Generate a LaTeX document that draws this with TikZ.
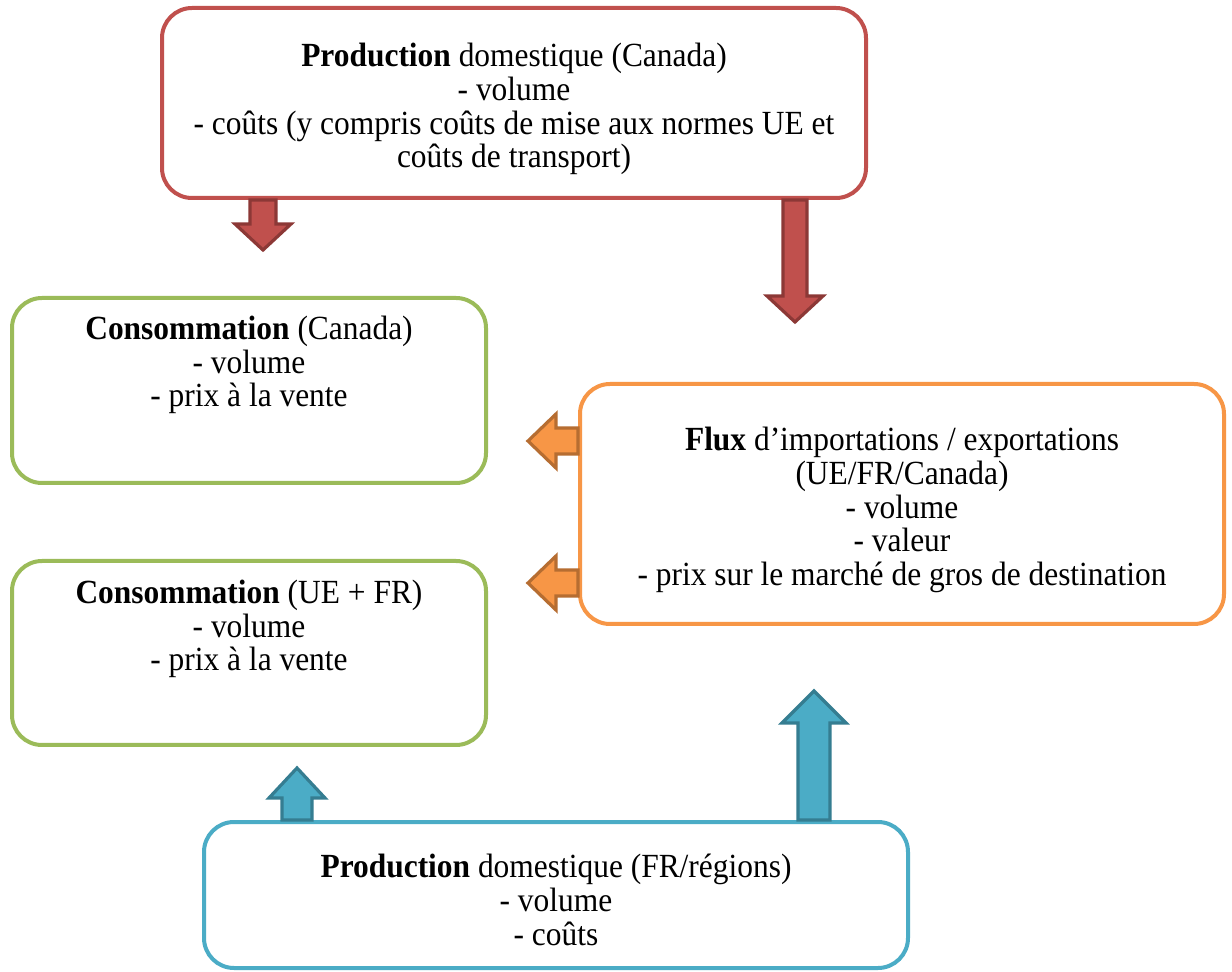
\documentclass[tikz,border=0pt]{standalone}
\usepackage{fontspec}
\setmainfont{Liberation Serif}[FakeStretch=0.93]
\usetikzlibrary{calc}

\definecolor{redbox}{HTML}{C0504D}
\definecolor{redline}{HTML}{8C3836}
\definecolor{greenbox}{HTML}{9BBB59}
\definecolor{orangebox}{HTML}{F79646}
\definecolor{orangeline}{HTML}{B66D31}
\definecolor{bluebox}{HTML}{4BACC6}
\definecolor{blueline}{HTML}{357D91}

\tikzstyle{box} = [rectangle, rounded corners=15pt, line width=2pt, fill=white, align=center, inner sep=0pt]
\tikzstyle{txt} = [align=center, inner sep=0pt, font=\fontsize{16.9}{16.9}\selectfont]
\tikzstyle{redarrow} = [fill=redbox, draw=redline, line width=1.6pt, line join=miter]
\tikzstyle{orangearrow} = [fill=orangebox, draw=orangeline, line width=1.6pt, line join=miter]
\tikzstyle{bluearrow} = [fill=bluebox, draw=blueline, line width=1.6pt, line join=miter]

% block arrow: style, from, to, half shaft, half head, head length
\newcommand{\blockarrow}[6]{%
  \coordinate (ba-h) at ($(#3)!#6!(#2)$);
  \draw[#1] ($(#2)!#4!90:(#3)$) -- ($(ba-h)!#4!90:(#3)$) -- ($(ba-h)!#5!90:(#3)$) -- (#3)
    -- ($(ba-h)!#5!-90:(#3)$) -- ($(ba-h)!#4!-90:(#3)$) -- ($(#2)!#4!-90:(#3)$) -- cycle;
}

\begin{document}
\begin{tikzpicture}[x=0.5pt,y=-0.5pt]

\fill[white] (0,0) rectangle (1232,972);
\useasboundingbox (0,0) rectangle (1232,972);

% Define nodes
\node (prodca) [box, draw=redbox, minimum width=352pt, minimum height=95pt] at (514,103) {};
\node (prodcatxt) [txt] at (514,109) {\textbf{Production} domestique (Canada)\\- volume\\- coûts (y compris coûts de mise aux normes UE et\\coûts de transport)};

\node (consca) [box, draw=greenbox, minimum width=237pt, minimum height=92.5pt] at (249,390.5) {};
\node (conscatxt) [txt] at (249,365) {\textbf{Consommation} (Canada)\\- volume\\- prix à la vente};

\node (consue) [box, draw=greenbox, minimum width=237pt, minimum height=92pt] at (249,653) {};
\node (consuetxt) [txt] at (249,629) {\textbf{Consommation} (UE + FR)\\- volume\\- prix à la vente};

\node (flux) [box, draw=orangebox, minimum width=322pt, minimum height=120pt] at (902,504) {};
\node (fluxtxt) [txt] at (902,510) {\textbf{Flux} d’importations / exportations\\(UE/FR/Canada)\\- volume\\- valeur\\- prix sur le marché de gros de destination};

\node (prodfr) [box, draw=bluebox, minimum width=352pt, minimum height=73pt] at (556,895) {};
\node (prodfrtxt) [txt] at (556,900) {\textbf{Production} domestique (FR/régions)\\- volume\\- coûts};

% Arrow ends
\coordinate (r1a) at ([xshift=-125.5pt]prodca.south);
\coordinate (r1b) at ([yshift=-25pt]r1a);
\coordinate (r2a) at ([xshift=140.5pt]prodca.south);
\coordinate (r2b) at ([yshift=-61pt]r2a);
\coordinate (o1a) at ([yshift=31.5pt]flux.west);
\coordinate (o1b) at ([xshift=-25pt]o1a);
\coordinate (o2a) at ([yshift=-39.5pt]flux.west);
\coordinate (o2b) at ([xshift=-25pt]o2a);
\coordinate (b1a) at ([xshift=-129.5pt]prodfr.north);
\coordinate (b1b) at ([yshift=26pt]b1a);
\coordinate (b2a) at ([xshift=129pt]prodfr.north);
\coordinate (b2b) at ([yshift=64.5pt]b2a);

% Draw arrows
\blockarrow{redarrow}{r1a}{r1b}{6.5pt}{14pt}{13pt}
\blockarrow{redarrow}{r2a}{r2b}{6pt}{14pt}{13pt}
\blockarrow{orangearrow}{o1a}{o1b}{6.5pt}{13.5pt}{14pt}
\blockarrow{orangearrow}{o2a}{o2b}{6.5pt}{13.5pt}{14pt}
\blockarrow{bluearrow}{b1a}{b1b}{7.5pt}{14pt}{15pt}
\blockarrow{bluearrow}{b2a}{b2b}{8pt}{16pt}{16pt}

\end{tikzpicture}
\end{document}
